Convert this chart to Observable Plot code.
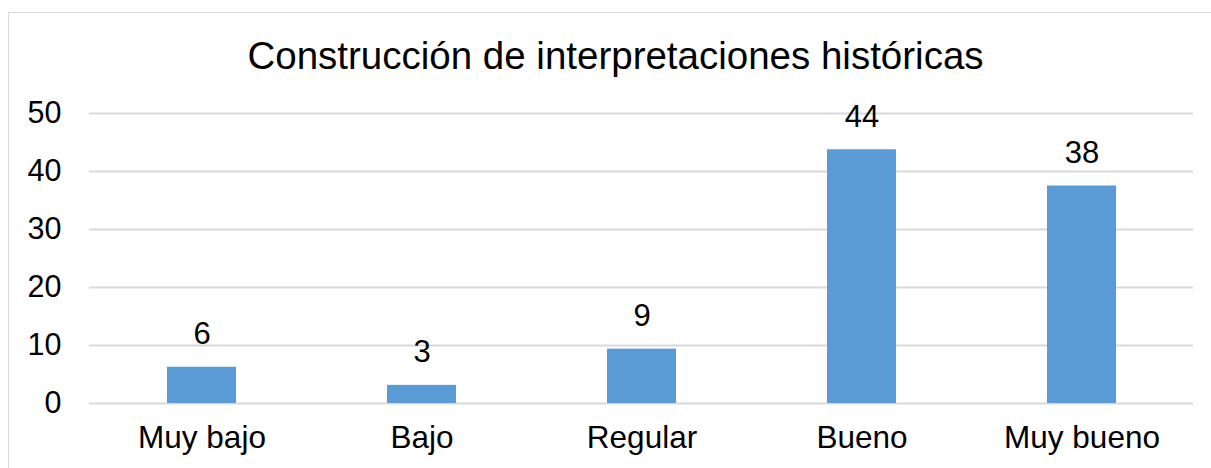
<!DOCTYPE html>
<html>
<head>
<meta charset="utf-8">
<script src="https://cdn.jsdelivr.net/npm/d3@7"></script>
<script src="https://cdn.jsdelivr.net/npm/@observablehq/plot@0.6"></script>
<style>
  html, body { margin: 0; padding: 0; background: #fff; }
  #wrap { position: relative; width: 1211px; height: 468px; overflow: hidden; font-family: "Liberation Sans", Arial, sans-serif; }
  #frame { position: absolute; left: 8px; top: 12px; width: 1220px; height: 480px; border: 1px solid #d9d9d9; box-sizing: border-box; }
  #title { position: absolute; left: 0; top: 0; width: 1211px; height: 95px; text-align: center; font-size: 38.5px; line-height: 38px; padding-top: 37px; box-sizing: border-box; color: #000; padding-left: 20px; }
  #chart { position: absolute; left: 0; top: 95px; }
</style>
</head>
<body>
<div id="wrap">
  <div id="frame"></div>
  <div id="title">Construcción de interpretaciones históricas</div>
  <div id="chart"></div>
</div>
<script>
const categories = ["Muy bajo", "Bajo", "Regular", "Bueno", "Muy bueno"];
const values = [6.25, 3.125, 9.375, 43.75, 37.5];
const yTicks = [0, 10, 20, 30, 40, 50];

const data = categories.map((c, i) => ({category: c, value: values[i]}));

const chart = Plot.plot({
  width: 1211,
  height: 373,
  marginLeft: 89,
  marginRight: 18,
  marginTop: 18,
  marginBottom: 65,
  style: { fontFamily: "Liberation Sans, Arial, sans-serif", fontSize: "31px", color: "#000", background: "transparent" },
  x: { domain: categories, paddingInner: 0.6875, paddingOuter: 0.34375, label: null },
  y: { domain: [0, 50], label: null },
  marks: [
    Plot.gridY(yTicks, { stroke: "#d9d9d9", strokeOpacity: 1, strokeWidth: 2 }),
    Plot.barY(data, { x: "category", y: "value", fill: "#5b9bd5" }),
    Plot.text(data, { x: "category", y: "value", text: d => String(Math.round(d.value)), dy: -23, lineAnchor: "bottom", fontSize: 31, fill: "#000" }),
    Plot.axisY(yTicks, { tickSize: 0, tickPadding: 28, fontSize: 30.5, fill: "#000", label: null }),
    Plot.axisX({ tickSize: 0, tickPadding: 22, fontSize: 31.5, fill: "#000", label: null })
  ]
});
document.getElementById("chart").appendChild(chart);
</script>
</body>
</html>
